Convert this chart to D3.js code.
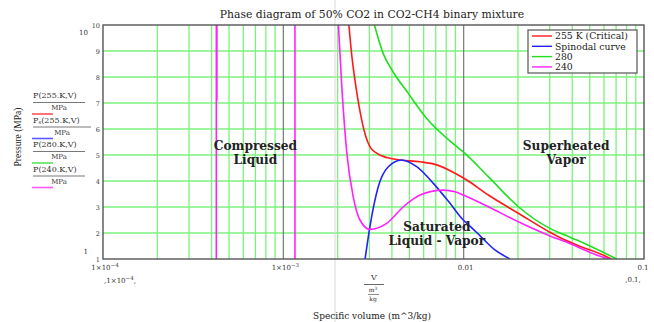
<!DOCTYPE html>
<html>
<head>
<meta charset="utf-8">
<script src="https://cdn.jsdelivr.net/npm/d3@7"></script>
<style>
  body { margin: 0; background: #fff; }
  svg { display: block; font-family: "DejaVu Serif", serif; }
</style>
</head>
<body>
<svg id="chart" width="654" height="322"></svg>
<script>
// values: [specific volume m^3/kg, pressure MPa]
var iso255 = [[0.00231,10],[0.00239,8.9],[0.00253,7.6],[0.00272,6.35],[0.00287,5.7],[0.00302,5.32],
  [0.00329,5.07],[0.00374,4.9],[0.00444,4.81],[0.00573,4.74],[0.00709,4.62],[0.00895,4.3],[0.0104,4.04],
  [0.0137,3.46],[0.0201,2.76],[0.0308,1.99],[0.0365,1.73],[0.0424,1.54],[0.0621,1.09],[0.066,1.0]];
var spinodal = [[0.00284,1.0],[0.00302,2.24],[0.00336,3.78],[0.00382,4.55],[0.00453,4.81],[0.00549,4.55],
  [0.00679,3.91],[0.0084,3.14],[0.00995,2.5],[0.0111,2.2],[0.0123,1.9],[0.0149,1.35],[0.0181,1.0]];
var iso280 = [[0.0032,10],[0.00358,8.9],[0.0040,8.27],[0.00493,7.37],[0.00624,6.4],[0.00895,5.38],
  [0.00995,5.12],[0.0137,4.17],[0.0201,3.01],[0.0308,2.14],[0.0365,1.92],[0.0424,1.73],[0.0706,1.0]];
var iso240 = [[0.00202,10],[0.00211,7.63],[0.00225,5.07],[0.00244,3.4],[0.00266,2.5],[0.00302,2.14],
  [0.00374,2.37],[0.00463,3.01],[0.00573,3.46],[0.00771,3.65],[0.00895,3.59],[0.00995,3.46],[0.0137,3.01],
  [0.0201,2.43],[0.0308,1.86],[0.0365,1.67],[0.0621,1.03],[0.065,1.0]];
// liquid-side branches of the 240 K curve (nearly vertical)
var iso240liqA = [[0.000425,1],[0.000425,10]];
var iso240liqB = [[0.000428,7.1],[0.000428,10]];
var iso240liqC = [[0.00116,1],[0.00116,10]];

var xTicks = [1e-4, 1e-3, 0.01, 0.1];
var xTickText = [["1\u00d710", "\u22124"], ["1\u00d710", "\u22123"], ["0.01", ""], ["0.1", ""]];
var yTicks = [1, 2, 3, 4, 5, 6, 7, 8, 9, 10];
var legendNames = ["255 K (Critical)", "Spinodal curve", "280", "240"];
var exprNames = ["P(255.K,V)", "P_s(255.K,V)", "P(280.K,V)", "P(240.K,V)"];
var regionNames = [
  {lines: ["Compressed", "Liquid"], v: 7.0e-4, p: 5.35},
  {lines: ["Superheated", "Vapor"], v: 0.037, p: 5.35},
  {lines: ["Saturated", "Liquid - Vapor"], v: 0.0071, p: 2.25}
];

var colors = ["#ff1a1a", "#2222ff", "#22dd22", "#ff22ff"];

var svg = d3.select("#chart");
var margin = {top: 25, right: 10, bottom: 63, left: 103};
var width = 654, height = 322;

var x = d3.scaleLog().domain([1e-4, 0.1]).range([margin.left, width - margin.right]);
var y = d3.scaleLinear().domain([1, 10]).range([height - margin.bottom, margin.top]);

// grid
var minor = [];
[1e-4, 1e-3, 1e-2].forEach(function(d) {
  for (var k = 2; k <= 9; k++) minor.push(k * d);
});
svg.append("g").selectAll("line").data(minor).enter().append("line")
  .attr("x1", function(d) { return x(d); }).attr("x2", function(d) { return x(d); })
  .attr("y1", y(1)).attr("y2", y(10))
  .attr("stroke", "#7cf27c").attr("stroke-width", 1.3);
svg.append("g").selectAll("line").data(yTicks.slice(1, 9)).enter().append("line")
  .attr("x1", x(1e-4)).attr("x2", x(0.1))
  .attr("y1", function(d) { return y(d); }).attr("y2", function(d) { return y(d); })
  .attr("stroke", "#7cf27c").attr("stroke-width", 1.3);
svg.append("g").selectAll("line").data([1e-3, 1e-2]).enter().append("line")
  .attr("x1", function(d) { return x(d); }).attr("x2", function(d) { return x(d); })
  .attr("y1", y(1)).attr("y2", y(10))
  .attr("stroke", "#777").attr("stroke-width", 1.2);

// faint page line
svg.append("line").attr("x1", 335).attr("x2", 335).attr("y1", 0).attr("y2", height)
  .attr("stroke", "#d8d8d8").attr("stroke-width", 1);

// curves
svg.append("clipPath").attr("id", "plotclip").append("rect")
  .attr("x", x(1e-4)).attr("y", y(10)).attr("width", x(0.1) - x(1e-4)).attr("height", y(1) - y(10));
var line = d3.line().x(function(d) { return x(d[0]); }).y(function(d) { return y(d[1]); })
  .curve(d3.curveMonotoneX);
var vline = d3.line().x(function(d) { return x(d[0]); }).y(function(d) { return y(d[1]); });
var curves = svg.append("g").attr("clip-path", "url(#plotclip)");
[[iso255, 0], [spinodal, 1], [iso280, 2], [iso240, 3]].forEach(function(c) {
  curves.append("path").attr("d", line(c[0])).attr("fill", "none")
    .attr("stroke", colors[c[1]]).attr("stroke-width", 1.6);
});
[iso240liqA, iso240liqB, iso240liqC].forEach(function(c) {
  curves.append("path").attr("d", vline(c)).attr("fill", "none")
    .attr("stroke", colors[3]).attr("stroke-width", 1.6);
});

// frame
svg.append("rect").attr("x", x(1e-4)).attr("y", y(10))
  .attr("width", x(0.1) - x(1e-4)).attr("height", y(1) - y(10))
  .attr("fill", "none").attr("stroke", "#555").attr("stroke-width", 1.4);

// y tick labels
svg.append("g").selectAll("text").data(yTicks).enter().append("text")
  .attr("x", x(1e-4) - 3).attr("y", function(d) { return y(d) + 2.5; })
  .attr("text-anchor", "end").attr("font-size", 6.5).attr("fill", "#333")
  .text(function(d) { return d; });
svg.append("text").attr("x", 88).attr("y", y(10) + 10).attr("text-anchor", "end")
  .attr("font-size", 7).attr("fill", "#333").text(yTicks[9]);
svg.append("text").attr("x", 88).attr("y", y(1) - 5).attr("text-anchor", "end")
  .attr("font-size", 7).attr("fill", "#333").text(yTicks[0]);

// x tick labels
var xl = svg.append("g").selectAll("text").data(xTicks).enter().append("text")
  .attr("x", function(d, i) { return x(d) + (i === 3 ? -1 : 2); })
  .attr("y", y(1) + 11).attr("text-anchor", "middle").attr("font-size", 7).attr("fill", "#333");
xl.append("tspan").text(function(d, i) { return xTickText[i][0]; });
xl.append("tspan").attr("dy", -3).attr("font-size", 5.5).text(function(d, i) { return xTickText[i][1]; });

var lo = svg.append("text").attr("x", x(1e-4) + 17).attr("y", y(1) + 24)
  .attr("text-anchor", "middle").attr("font-size", 7).attr("fill", "#333");
lo.append("tspan").text("," + xTickText[0][0]);
lo.append("tspan").attr("dy", -3).attr("font-size", 5.5).text(xTickText[0][1]);
lo.append("tspan").attr("dy", 3).text(",");
svg.append("text").attr("x", x(0.1) - 11).attr("y", y(1) + 23).attr("text-anchor", "middle")
  .attr("font-size", 7).attr("fill", "#333").text("," + xTickText[3][0] + ",");

// x variable fraction
svg.append("text").attr("x", 374).attr("y", 280).attr("text-anchor", "middle")
  .attr("font-size", 8).attr("fill", "#333").text("V");
svg.append("line").attr("x1", 364).attr("x2", 384).attr("y1", 284.5).attr("y2", 284.5)
  .attr("stroke", "#444").attr("stroke-width", 0.8);
var m3 = svg.append("text").attr("x", 373).attr("y", 292).attr("text-anchor", "middle")
  .attr("font-size", 6).attr("fill", "#333");
m3.append("tspan").text("m");
m3.append("tspan").attr("dy", -2).attr("font-size", 4.5).text("3");
svg.append("line").attr("x1", 368).attr("x2", 379).attr("y1", 294.5).attr("y2", 294.5)
  .attr("stroke", "#444").attr("stroke-width", 0.6);
svg.append("text").attr("x", 373).attr("y", 300.5).attr("text-anchor", "middle")
  .attr("font-size", 6).attr("fill", "#333").text("kg");

// axis titles
svg.append("text").attr("x", 372).attr("y", 319).attr("text-anchor", "middle")
  .attr("font-size", 9).attr("fill", "#222").text("Specific volume (m^3/kg)");
svg.append("text").attr("transform", "translate(21,137) rotate(-90)").attr("text-anchor", "middle")
  .attr("font-family", "Liberation Serif, serif")
  .attr("font-size", 9.5).attr("fill", "#222").text("Pressure (MPa)");

// title
svg.append("text").attr("x", 372).attr("y", 18).attr("text-anchor", "middle")
  .attr("font-size", 10.8).attr("fill", "#222").text("Phase diagram of 50% CO2 in CO2-CH4 binary mixture");

// left expression legend
var ex = svg.append("g").selectAll("g").data(exprNames).enter().append("g")
  .attr("transform", function(d, i) { return "translate(33," + (98 + i * 24.5) + ")"; });
ex.each(function(d, i) {
  var g = d3.select(this);
  var t = g.append("text").attr("x", 0).attr("y", 0).attr("font-size", 8).attr("fill", "#333");
  if (d.indexOf("_s") > 0) {
    t.append("tspan").text("P");
    t.append("tspan").attr("dy", 1.5).attr("font-size", 5.5).text("s");
    t.append("tspan").attr("dy", -1.5).text(d.slice(3));
  } else {
    t.text(d);
  }
  var w = i === 1 ? 58 : 52;
  g.append("line").attr("x1", 0).attr("x2", w).attr("y1", 4.5).attr("y2", 4.5)
    .attr("stroke", "#555").attr("stroke-width", 0.8);
  g.append("text").attr("x", w / 2).attr("y", 12).attr("text-anchor", "middle")
    .attr("font-size", 7).attr("fill", "#333").text("MPa");
  g.append("line").attr("x1", -1).attr("x2", 20).attr("y1", 16).attr("y2", 16)
    .attr("stroke", colors[i]).attr("stroke-width", 1.6).attr("opacity", 0.75);
});

// legend box
var lg = svg.append("g").attr("transform", "translate(528,30)");
lg.append("rect").attr("width", 109).attr("height", 43).attr("fill", "#fff")
  .attr("stroke", "#555").attr("stroke-width", 1.2);
lg.selectAll("g").data(legendNames).enter().append("g")
  .attr("transform", function(d, i) { return "translate(0," + (6 + i * 10.3) + ")"; })
  .each(function(d, i) {
    var g = d3.select(this);
    g.append("line").attr("x1", 4).attr("x2", 24).attr("y1", 0).attr("y2", 0)
      .attr("stroke", colors[i]).attr("stroke-width", 1.4);
    g.append("text").attr("x", 27).attr("y", 3.2).attr("font-size", 9.3).attr("fill", "#222").text(d);
  });

// region labels
svg.append("g").selectAll("text").data(regionNames).enter().append("text")
  .attr("text-anchor", "middle").attr("font-size", 12.2).attr("font-weight", "bold")
  .attr("fill", "#222")
  .each(function(d) {
    var t = d3.select(this);
    d.lines.forEach(function(s, k) {
      t.append("tspan").attr("x", x(d.v)).attr("y", y(d.p) + 4 + k * 14).text(s);
    });
  });
</script>
</body>
</html>
